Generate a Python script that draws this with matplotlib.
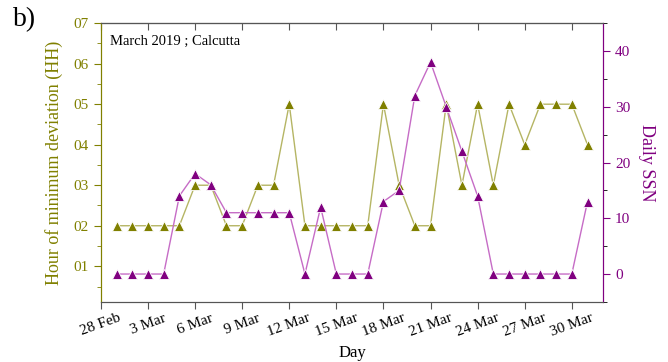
import numpy as np
import matplotlib
matplotlib.use("Agg")
import matplotlib.pyplot as plt
from matplotlib.ticker import MultipleLocator, FixedLocator

plt.rcParams['font.family'] = ['Liberation Serif', 'DejaVu Serif']

# Daily values for March 2019, Calcutta
days = np.arange(np.datetime64('2019-03-01'), np.datetime64('2019-04-01'))
hour_min_dev = [2, 2, 2, 2, 2, 3, 3, 2, 2, 3, 3, 5, 2, 2, 2, 2, 2, 5, 3, 2,
                2, 5, 3, 5, 3, 5, 4, 5, 5, 5, 4]
daily_ssn = [0, 0, 0, 0, 14, 18, 16, 11, 11, 11, 11, 11, 0, 12, 0, 0, 0, 13, 15, 32,
             38, 30, 22, 14, 0, 0, 0, 0, 0, 0, 13]

tick_dates = np.arange(np.datetime64('2019-02-28'), np.datetime64('2019-03-31'), 3)
tick_labels = ['28 Feb', '3 Mar', '6 Mar', '9 Mar', '12 Mar', '15 Mar',
               '18 Mar', '21 Mar', '24 Mar', '27 Mar', '30 Mar']
hh_ticks = [1, 2, 3, 4, 5, 6, 7]
hh_labels = ['01', '02', '03', '04', '05', '06', '07']

olive = '#808000'
olive_line = '#b5b564'
purple = '#800080'
purple_line = '#c66cc6'
frame = '#555555'

fig = plt.figure(figsize=(6.68, 3.62), dpi=100)
ax = fig.add_axes([0.151, 0.166, 0.752, 0.770])
ax2 = ax.twinx()

ax.plot(days, hour_min_dev, color=olive_line, lw=1.0, marker='^', ms=7.5,
        mfc=olive, mec='white', mew=0.6, zorder=3)
ax2.plot(days, daily_ssn, color=purple_line, lw=1.0, marker='^', ms=7.5,
         mfc=purple, mec='white', mew=0.6, zorder=3)

ax.set_xlim(np.datetime64('2019-02-28'), np.datetime64('2019-04-01'))
ax.set_ylim(0.12, 7)
ax2.set_ylim(-5, 45)

tick_pos = matplotlib.dates.date2num(tick_dates)
ax.xaxis.set_major_locator(FixedLocator(tick_pos))
ax.set_xticklabels(tick_labels, rotation=20, ha='center', fontsize=11)
ax.set_yticks(hh_ticks)
ax.set_yticklabels(hh_labels, fontsize=11, color=olive)
ax.yaxis.set_minor_locator(MultipleLocator(0.5))
ax2.yaxis.set_major_locator(MultipleLocator(10))
ax2.yaxis.set_minor_locator(MultipleLocator(5))
ax2.tick_params(axis='y', labelsize=11, labelcolor=purple, colors=purple)

ax.tick_params(axis='x', which='major', direction='out', length=5, color=frame,
               pad=2, top=False)
ax.tick_params(axis='y', which='both', direction='out', colors=olive, labelcolor=olive)
ax.tick_params(axis='y', which='major', length=5)
ax.tick_params(axis='y', which='minor', length=3)
ax2.tick_params(axis='y', which='major', length=5)
ax2.tick_params(axis='y', which='minor', length=3)

# inward ticks along the top edge
top = ax.secondary_xaxis('top')
top.xaxis.set_major_locator(FixedLocator(tick_pos))
top.tick_params(axis='x', direction='in', length=5, color=frame, labeltop=False)
top.spines['top'].set_color(frame)

for a in (ax, ax2):
    a.spines['top'].set_color(frame)
    a.spines['bottom'].set_color(frame)
    a.spines['left'].set_color(olive)
    a.spines['right'].set_color(purple)

ax.set_xlabel('Day', fontsize=12)
ax.xaxis.set_label_coords(0.5, -0.155)
ax.set_ylabel('Hour of minimum deviation (HH)', fontsize=13, color=olive, labelpad=8)
ax2.set_ylabel('Daily SSN', fontsize=13, color=purple, rotation=-90, labelpad=18)

ax.text(0.018, 0.935, 'March 2019 ; Calcutta', transform=ax.transAxes,
        fontsize=10.5, va='center', ha='left')
fig.text(0.02, 0.945, 'b)', fontsize=20, va='center', ha='left')

fig.savefig('out.png', dpi=100)
